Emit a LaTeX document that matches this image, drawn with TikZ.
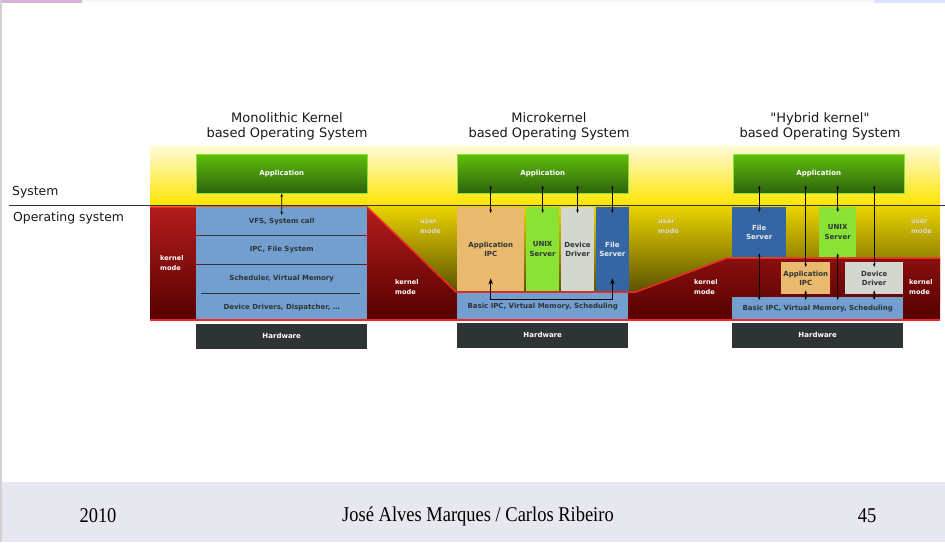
\documentclass[tikz,border=0pt]{standalone}
\usepackage{fontspec}
\setmainfont{DejaVu Sans}
\newfontfamily\footfont{Liberation Serif}
\usepackage{tikz}
\usetikzlibrary{positioning,arrows.meta,calc}
\definecolor{cGrnA} {HTML}{60BE0A}
\definecolor{cGrnB} {HTML}{2E620E}
\definecolor{cGrnL} {HTML}{8AE234}
\definecolor{cBlue} {HTML}{729FCF}
\definecolor{cTan}  {HTML}{E9B96E}
\definecolor{cLime} {HTML}{8AE234}
\definecolor{cLGray}{HTML}{D3D7CF}
\definecolor{cNavy} {HTML}{3465A4}
\definecolor{cHw}   {HTML}{2E3436}
\definecolor{cRedA} {HTML}{B41C1C}
\definecolor{cRedB} {HTML}{560000}
\definecolor{cRedL} {HTML}{EF2929}
\definecolor{cYelA} {HTML}{FFFCDC}
\definecolor{cYelB} {HTML}{FDE400}
\definecolor{cUsrA} {HTML}{EDD400}
\definecolor{cUsrB} {HTML}{4E4600}
\definecolor{cFoot} {HTML}{E6E7EF}
\newcommand\boxfont{\fontsize{7}{9.5}\selectfont\bfseries}
\tikzset{
  >={Stealth[length=3.5pt,width=2.6pt]},
  kbox/.style={inner sep=0pt,align=center,font=\boxfont,text=cHw},
  sapp/.style={kbox,minimum width=171pt,minimum height=39pt,top color=cGrnA,
               bottom color=cGrnB,draw=cGrnL,line width=0.5pt,text=white},
  slayer/.style={kbox,fill=cBlue,minimum width=171pt,minimum height=28.25pt},
  shw/.style={kbox,fill=cHw,text=white,minimum width=171pt,minimum height=25pt},
  sbas/.style={kbox,fill=cBlue,minimum width=171pt},
  sipc/.style={kbox,fill=cTan},
  sunix/.style={kbox,fill=cLime},
  sdrv/.style={kbox,fill=cLGray},
  sfs/.style={kbox,fill=cNavy,text=white!92!black},
  smode/.style={inner sep=0pt,align=left,font=\fontsize{6.6}{10}\selectfont\bfseries,text=white},
  stitle/.style={inner sep=0pt,align=center,font=\fontsize{13}{15}\selectfont,text=black!90},
  sside/.style={inner sep=0pt,anchor=west,font=\fontsize{12.4}{14}\selectfont,text=black!90},
  sfoot/.style={inner sep=0pt,font=\footfont\fontsize{21}{24}\selectfont,xscale=0.88,transform shape},
  sar/.style={<->,line width=0.6pt,black},
  sbig/.style={{Stealth[length=6pt,width=4.5pt]}-{Stealth[length=6pt,width=4.5pt]},line width=0.6pt,black},
  sline/.style={cHw,line width=0.8pt},
}
\begin{document}
\begin{tikzpicture}[x=1pt,y=-1pt]
  \useasboundingbox (0,0) rectangle (945,542);
  % page frame and footer
  \fill[white] (0,0) rectangle (945,542);
  \fill[black!4] (0,0) rectangle (945,2);
  \fill[violet!30] (0,0) rectangle (82,2.5);
  \fill[blue!12] (874,0) rectangle (945,2.5);
  \fill[cFoot] (0,482) rectangle (945,542);
  \fill[black!18] (0,0) rectangle (1.5,542);

  % backgrounds: user space, user mode, kernel mode
  \shade[top color=cYelA,bottom color=cYelB] (150,145) rectangle (940,205);
  \shade[top color=cUsrA,bottom color=cUsrB] (150,205) rectangle (940,300);
  \shade[top color=cRedA,bottom color=cRedB] (150,207) -- (367,207) -- (456,292)
    -- (636,292) -- (727,258) -- (940,258) -- (940,320) -- (150,320) -- cycle;
  \draw[cRedL,line width=1.5pt] (150,207) -- (367,207) -- (456,292)
    -- (636,292) -- (727,258) -- (940,258);

  % monolithic kernel
  \node[sapp,anchor=north west] (mapp) at (196,154) {Application};
  \node[slayer,anchor=north west] (mvfs) at (196,207) {VFS, System call};
  \node[slayer,below=0pt of mvfs] (mfsy) {IPC, File System};
  \node[slayer,below=0pt of mfsy] (msch) {Scheduler, Virtual Memory};
  \node[slayer,below=0pt of msch] (mdev) {Device Drivers, Dispatcher, \dots};
  \node[shw,below=2pt of mdev] (mhw) {Hardware};
  \foreach \a in {mvfs,mfsy,msch}
    \draw[sline] ($(\a.south west)+(5,0)$) -- ($(\a.south east)+(-7,0)$);

  % microkernel
  \node[sapp,anchor=north west] (kapp) at (457,154) {Application};
  \node[sipc,anchor=north west,minimum width=67pt,minimum height=84pt] (kipc) at (457,207) {Application\\IPC};
  \node[sunix,right=1.5pt of kipc,minimum width=33pt,minimum height=84pt] (kunix) {UNIX\\Server};
  \node[sdrv,right=1.5pt of kunix,minimum width=33pt,minimum height=84pt] (kdrv) {Device\\Driver};
  \node[sfs,right=1.5pt of kdrv,minimum width=33pt,minimum height=84pt] (kfs) {File\\Server};
  \node[sbas,anchor=north west,minimum height=27pt] (kbas) at (457,293) {Basic IPC, Virtual Memory, Scheduling};
  \node[shw,below=2pt of kbas] (khw) {Hardware};

  % hybrid kernel
  \node[sapp,anchor=north west] (happ) at (733,154) {Application};
  \node[sfs,anchor=north west,minimum width=54pt,minimum height=50pt] (hfs) at (732,207) {File\\Server};
  \node[sunix,anchor=north west,minimum width=37pt,minimum height=50pt] (hunix) at (819,207) {UNIX\\Server};
  \node[sipc,anchor=north west,minimum width=49pt,minimum height=32pt] (hipc) at (781,262) {Application\\IPC};
  \node[sdrv,anchor=north west,minimum width=58pt,minimum height=32pt] (hdrv) at (845,262) {Device\\Driver};
  \node[sbas,anchor=north west,minimum height=23pt] (hbas) at (732,297) {Basic IPC, Virtual Memory, Scheduling};
  \node[shw,below=2pt of hbas] (hhw) {Hardware};

  % system / operating system boundary
  \draw[cHw,line width=1.8pt] (9,205.5) -- (945,205.5);
  \draw[cRedL,line width=1.5pt] (150,320) -- (940,320);

  % connectors
  \draw[sar,shorten >=-8pt] (mapp) -- (mvfs.north);
  \foreach \n in {kipc,kunix,kdrv,kfs}
    \draw[sar,shorten <=-8pt,shorten >=-6pt] (\n.north |- kapp.south) -- (\n.north);
  \draw[sbig] ($(kipc.south)+(0,-13)$) -- ($(kipc.south)+(0,8)$) -| ($(kfs.south)+(0,-13)$);
  \foreach \n in {hfs,hipc,hunix,hdrv} {
    \draw[sar,shorten <=-8pt,shorten >=-5pt] (\n.north |- happ.south) -- (\n.north);
    \draw[sar,shorten <=-4pt,shorten >=-3pt] (\n.south) -- (\n.south |- hbas.north);
  }

  % mode labels
  \node[smode,anchor=west] (lk1) at (160,263) {kernel\\mode};
  \node[smode,anchor=west,text=white!85!black] (lu1) at (420,227) {user\\mode};
  \node[smode,anchor=west] (lk2) at (395,287) {kernel\\mode};
  \node[smode,anchor=west,text=white!85!black] (lu2) at (658,227) {user\\mode};
  \node[smode,anchor=west] (lk3) at (694,287) {kernel\\mode};
  \node[smode,anchor=west,text=white!85!black] (lu3) at (911,227) {user\\mode};
  \node[smode,anchor=west] (lk4) at (909,287) {kernel\\mode};

  % titles
  \node[stitle] (tmono) at (287,126.5) {Monolithic Kernel\\based Operating System};
  \node[stitle] (tmicro) at (549,126.5) {Microkernel\\based Operating System};
  \node[stitle] (thyb) at (820,126.5) {\textquotedbl Hybrid kernel\textquotedbl\\based Operating System};
  \node[sside] (lsys) at (12,192) {System};
  \node[sside] (los) at (13,218) {Operating system};

  % footer
  \node[sfoot] (fyear) at (98,516) {2010};
  \node[sfoot] (fauth) at (478,516) {José Alves Marques / Carlos Ribeiro};
  \node[sfoot] (fpage) at (867,516) {45};
\end{tikzpicture}
\end{document}
